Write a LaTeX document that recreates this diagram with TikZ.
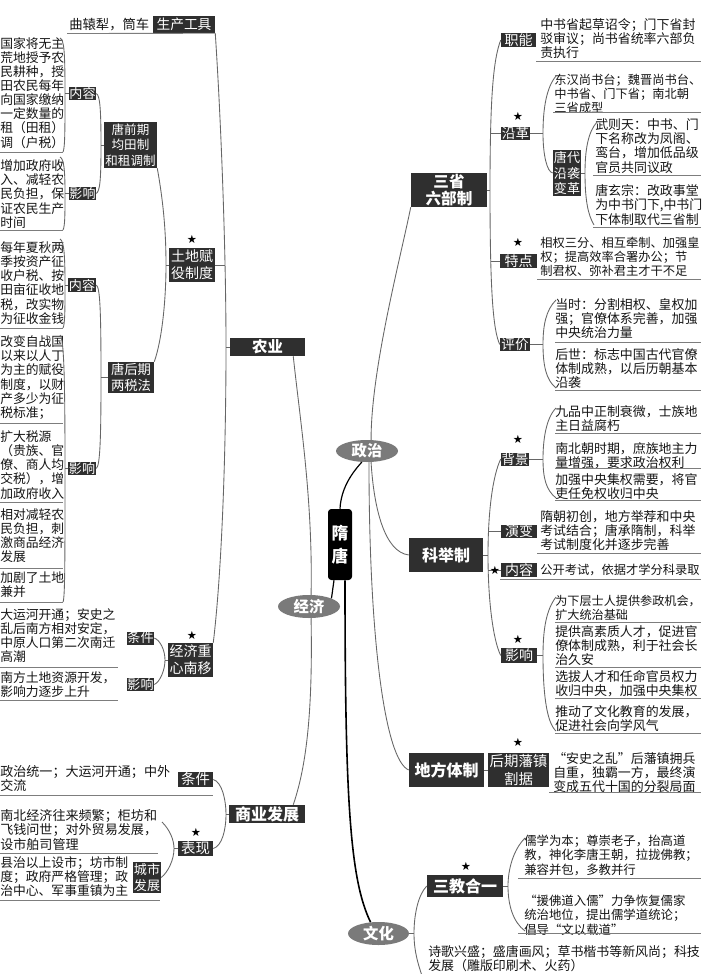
\documentclass[tikz,border=0pt]{standalone}
\usepackage{fontspec}
\setmainfont{Noto Sans CJK SC}
\newfontfamily\symfont{DejaVu Sans}
\usetikzlibrary{calc,shapes.geometric}
\definecolor{boxc}{HTML}{2F2F2F}
\definecolor{ellc}{HTML}{7A7A7A}
\definecolor{linec}{HTML}{666666}
\definecolor{txtc}{HTML}{151515}
\newcommand{\setfs}[2]{\fontsize{#1}{#2}\selectfont}
\begin{document}
\begin{tikzpicture}[x=0.75pt,y=-0.75pt,
 box/.style={fill=boxc,text=white,inner sep=0pt,align=center},
 bw/.style={minimum width=#1*0.75pt},
 bh/.style={minimum height=#1*0.75pt},
 ell/.style={ellipse,fill=ellc,text=white,inner sep=0pt,font=\bfseries\setfs{11.5}{12}},
 leaf/.style={inner sep=0pt,anchor=north west,align=left,text=txtc,font=\setfs{#1}{10.6}},
 leaf/.default=9.7,
 link/.style={draw=linec,line width=0.65pt},
 blink/.style={draw=black,line width=0.9pt},
 uline/.style={draw=linec!85,line width=0.65pt},
 starn/.style={inner sep=0pt,font=\symfont\setfs{8.5}{8.5}}
]
\fill[white] (0,0) rectangle (701,974);
\useasboundingbox (0,0) rectangle (701,974);

% ---------------- boxes: left ----------------
\node[box,bw=62,bh=17,font=\setfs{10.3}{12}] (sc) at (184,24.5) {生产工具};
\node[box,bw=53,bh=46,font=\setfs{9.4}{11.6}] (tq) at (130.5,145) {唐前期\\均田制\\和租调制};
\node[box,bw=27,bh=13,font=\setfs{9.8}{11}] (nr1) at (82.5,93.5) {内容};
\node[box,bw=27,bh=13,font=\setfs{9.8}{11}] (yx1) at (82.5,193.5) {影响};
\node[box,bw=46,bh=34,font=\setfs{10.5}{12.5}] (td) at (192,265) {土地赋\\役制度};
\node[box,bw=46,bh=31,font=\setfs{10}{12}] (th) at (131,377.5) {唐后期\\两税法};
\node[box,bw=28,bh=14,font=\setfs{9.8}{11}] (nr2) at (82,285) {内容};
\node[box,bw=28,bh=13,font=\setfs{9.8}{11}] (yx2) at (82,468.5) {影响};
\node[box,bw=75,bh=18,font=\bfseries\setfs{11.5}{12}] (ny) at (267.5,347) {农业};
\node[box,bw=45,bh=34,font=\setfs{10.5}{12.5}] (jz) at (190.5,660) {经济重\\心南移};
\node[box,bw=27,bh=13,font=\setfs{9.8}{11}] (tj3) at (140.5,638) {条件};
\node[box,bw=27,bh=13,font=\setfs{9.8}{11}] (yx3) at (140.5,684.5) {影响};
\node[box,bw=76,bh=18,font=\bfseries\setfs{12}{12}] (sy) at (267,814) {商业发展};
\node[box,bw=35,bh=15,font=\setfs{10.8}{12}] (tj4) at (195.5,779.5) {条件};
\node[box,bw=35,bh=15,font=\setfs{10.8}{12}] (bx) at (195.5,848.5) {表现};
\node[box,bw=28,bh=31,font=\setfs{9.8}{11.5}] (cs) at (147,877.5) {城市\\发展};

% ---------------- centre ----------------
\node[box,fill=black,rounded corners=2.5pt,bw=24,bh=71,font=\bfseries\setfs{12.5}{17.5}] (st) at (340,544.5) {隋\\唐};
\node[ell,bw=62,bh=22] (zz) at (367,451) {政治};
\node[ell,bw=62,bh=23] (jj) at (309,606.5) {经济};
\node[ell,bw=61,bh=23] (wh) at (378.5,933.5) {文化};

% ---------------- boxes: right ----------------
\node[box,bw=76,bh=34,font=\bfseries\setfs{11.7}{12.8}] (ssl) at (449,190) {三省\\六部制};
\node[box,bw=74,bh=34,font=\bfseries\setfs{12}{12}] (kj) at (446,555) {科举制};
\node[box,bw=75,bh=34,font=\bfseries\setfs{12}{12}] (df) at (446.5,770) {地方体制};
\node[box,bw=61,bh=34,font=\setfs{10.8}{13}] (fz) at (518.5,770) {后期藩镇\\割据};
\node[box,bw=76,bh=22,font=\bfseries\setfs{12}{12}] (sj) at (465,886) {三教合一};
\node[box,bw=35,bh=14,font=\setfs{10.5}{12}] (zn) at (518.5,40) {职能};
\node[box,bw=29,bh=13,font=\setfs{10.2}{12}] (yg) at (515.5,133.5) {沿革};
\node[box,bw=28,bh=46,font=\setfs{9.8}{11.5}] (tdy) at (567,173) {唐代\\沿袭\\变革};
\node[box,bw=37,bh=14,font=\setfs{10.5}{12}] (tdn) at (518.5,261) {特点};
\node[box,bw=30,bh=13,font=\setfs{10.2}{12}] (pj) at (515,344.5) {评价};
\node[box,bw=28,bh=13,font=\setfs{10}{12}] (bj) at (515,459) {背景};
\node[box,bw=36,bh=13,font=\setfs{10.5}{12}] (yb) at (519,531.5) {演变};
\node[box,bw=36,bh=14,font=\setfs{10.5}{12}] (nr3) at (519,570) {内容};
\node[box,bw=36,bh=15,font=\setfs{10.5}{12}] (yx4) at (519,655.5) {影响};

% ---------------- stars ----------------
\node[starn] (s1) at (192,239) {★};
\node[starn] (s2) at (192,635) {★};
\node[starn] (s3) at (196,832) {★};
\node[starn] (s4) at (518,116) {★};
\node[starn] (s5) at (518,242) {★};
\node[starn] (s6) at (518,439) {★};
\node[starn] (s8) at (518,639) {★};
\node[starn] (s9) at (518,742) {★};
\node[starn] (s10) at (466,866) {★};

% ---------------- leaf texts: left ----------------
\node[leaf=10] (qy) at (69,18) {曲辕犁，筒车};
\node[leaf=9.6] (l1) at (0,37) {国家将无主\\荒地授予农\\民耕种，授\\田农民每年\\向国家缴纳\\一定数量的\\租（田租）\\调（户税）};
\node[leaf=9.6] (l2) at (0,159.5) {增加政府收\\入、减轻农\\民负担，保\\证农民生产\\时间};
\node[leaf=9.6] (l3) at (0,241.5) {每年夏秋两\\季按资产征\\收户税、按\\田亩征收地\\税，改实物\\为征收金钱};
\node[leaf=9.6] (l4) at (0,335.5) {改变自战国\\以来以人丁\\为主的赋役\\制度，以财\\产多少为征\\税标准；};
\node[leaf=9.6] (l5) at (0,430.5) {扩大税源\\（贵族、官\\僚、商人均\\交税），增\\加政府收入};
\node[leaf=9.6] (l6) at (0,508.5) {相对减轻农\\民负担，刺\\激商品经济\\发展};
\node[leaf=9.6] (l7) at (0,571.5) {加剧了土地\\兼并};
\node[leaf=9.6] (l8) at (0,608.5) {大运河开通；安史之\\乱后南方相对安定，\\中原人口第二次南迁\\高潮};
\node[leaf=9.6] (l9) at (0,671.5) {南方土地资源开发，\\影响力逐步上升};
\node[leaf=9.8] (l10) at (0,765) {政治统一；大运河开通；中外\\交流};
\node[leaf=9.8] (l11) at (0,809.5) {南北经济往来频繁；柜坊和\\飞钱问世；对外贸易发展，\\设市舶司管理};
\node[leaf=9.6] (l12) at (0,856.5) {县治以上设市；坊市制\\度；政府严格管理；政\\治中心、军事重镇为主};

% ---------------- leaf texts: right ----------------
\node[leaf=9.7] (r1) at (540,18.5) {中书省起草诏令；门下省封\\驳审议；尚书省统率六部负\\责执行};
\node[leaf=9.2] (r2) at (554,73.5) {东汉尚书台；魏晋尚书台、\\中书省、门下省；南北朝\\三省成型};
\node[leaf=9.7] (r3) at (595,118.5) {武则天：中书、门\\下名称改为凤阁、\\鸾台，增加低品级\\官员共同议政};
\node[leaf=9.7] (r4) at (595,184.5) {唐玄宗：改政事堂\\为中书门下,中书门\\下体制取代三省制};
\node[leaf=9.2] (r5) at (540,237) {相权三分、相互牵制、加强皇\\权；提高效率合署办公；节\\制君权、弥补君主才干不足};
\node[leaf=9.7] (r6) at (555,298.5) {当时：分割相权、皇权加\\强；官僚体系完善，加强\\中央统治力量};
\node[leaf=9.7] (r7) at (555,348.5) {后世：标志中国古代官僚\\体制成熟，以后历朝基本\\沿袭};
\node[leaf=9.7] (r8) at (555,405) {九品中正制衰微，士族地\\主日益腐朽};
\node[leaf=9.7] (r9) at (555,442) {南北朝时期，庶族地主力\\量增强，要求政治权利};
\node[leaf=9.7] (r10) at (555,473.5) {加强中央集权需要，将官\\吏任免权收归中央};
\node[leaf=9.7] (r11) at (540,510) {隋朝初创，地方举荐和中央\\考试结合；唐承隋制，科举\\考试制度化并逐步完善};
\node[leaf=9.2] (r12) at (540,563.5) {公开考试，依据才学分科录取};
\node[leaf=9.1] (r13) at (555,595) {为下层士人提供参政机会，\\扩大统治基础};
\node[leaf=9.7] (r14) at (555,625) {提供高素质人才，促进官\\僚体制成熟，利于社会长\\治久安};
\node[leaf=9.7] (r15) at (555,670) {选拔人才和任命官员权力\\收归中央，加强中央集权};
\node[leaf=9.7] (r16) at (555,705) {推动了文化教育的发展，\\促进社会向学风气};
\node[leaf=9.7] (r17) at (553,752) {“安史之乱”后藩镇拥兵\\自重，独霸一方，最终演\\变成五代十国的分裂局面};
\node[leaf=9.3] (r18) at (524,835) {儒学为本；尊崇老子，抬高道\\教，神化李唐王朝，拉拢佛教；\\兼容并包，多教并行};
\node[leaf=9.3] (r19) at (524,895) {“援佛道入儒”力争恢复儒家\\统治地位，提出儒学道统论；\\倡导“文以载道”};
\node[leaf=9.7,font=\setfs{9.7}{9.9}] (r20) at (428,945.5) {诗歌兴盛；盛唐画风；草书楷书等新风尚；科技\\发展（雕版印刷术、火药）};

% star in front of 内容 (科举)
\coordinate (nr3j) at (488.3,570);
\draw[link] (nr3j) -- (nr3.west);
\node[starn] (s7) at (495,570) {★};

% ---------------- underlines ----------------
\draw[uline] (67,33.5) -- (sc.south east);
\foreach \yy in {152,230,328,423,502,568,602} \draw[uline] (0,\yy) -- (63,\yy);
\draw[uline] (0,667) -- (118,667);
\draw[uline] (0,700) -- (118,700);
\draw[uline] (0,795) -- (tj4.east |- 0,795);
\draw[uline] (0,853) -- (158,853);
\draw[uline] (0,900) -- (160,900);
\draw[uline] (zn.east |- 0,61) -- (701,61);
\draw[uline] (553,112) -- (701,112);
\draw[uline] (593,175) -- (701,175);
\draw[uline] (593,227) -- (701,227);
\draw[uline] (tdn.east |- 0,279) -- (701,279);
\foreach \yy in {342,390,433,468,500,622,667,698,733} \draw[uline] (555,\yy) -- (701,\yy);
\draw[uline] (yb.east |- 0,553) -- (701,553);
\draw[uline] (500,579) -- (701,579);
\draw[uline] (fz.east |- 0,792) -- (701,792);
\draw[uline] (518,878) -- (701,878);
\draw[uline] (518,933) -- (701,933);

% ---------------- connectors: 农业 ----------------
\coordinate (nyj) at (226,347);
\draw[link] (sc.south east) .. controls (221,120) and (226,250) .. (nyj) .. controls (226,450) and (222,570) .. (jz.north east);
\draw[link] (nyj) -- (ny.west);
\coordinate (tdk) at (225,265);
\draw[link] (td.east) -- (tdk);

\coordinate (tdj) at (166,265);
\draw[link] (tq.south east) .. controls (163,200) and (166,230) .. (tdj) .. controls (166,300) and (162,340) .. (th.north east);
\draw[link] (tdj) -- (td.west);

\coordinate (tqj) at (101,145);
\draw[link] (nr1.east) .. controls (100,95) and (101,110) .. (tqj) .. controls (101,180) and (100,191) .. (yx1.east);
\draw[link] (tqj) -- (tq.west);

\coordinate (thj) at (101,377.5);
\draw[link] (nr2.east) .. controls (100,287) and (101,310) .. (thj) .. controls (101,440) and (100,466) .. (yx2.east);
\draw[link] (thj) -- (th.west);

% leaf brackets (left)
\coordinate (b1) at (65,93.5);
\draw[link] (60,38) .. controls (64,40) and (65,50) .. (b1) .. controls (65,130) and (65,148) .. (63,152);
\draw[link] (b1) -- (nr1.west);
\coordinate (b2) at (65,193.5);
\draw[link] (60,157) .. controls (64,159) and (65,170) .. (b2) .. controls (65,215) and (65,226) .. (63,230);
\draw[link] (b2) -- (yx1.west);
\coordinate (b3) at (65,285);
\draw[link] (60,239) .. controls (64,241) and (65,255) .. (b3) .. controls (65,310) and (65,324) .. (63,328);
\draw[link] (b3) -- (nr2.west);
\coordinate (b4) at (65,468.5);
\draw[link] (60,335) .. controls (64,338) and (65,380) .. (b4) .. controls (65,560) and (65,598) .. (63,602);
\draw[link] (b4) -- (yx2.west);

% 经济重心南移
\coordinate (jzj) at (165,660);
\draw[link] (tj3.east) .. controls (160,640) and (165,650) .. (jzj) .. controls (165,670) and (160,682) .. (yx3.east);
\draw[link] (jzj) -- (jz.west);

% 商业发展
\coordinate (syj) at (226,814);
\draw[link] (tj4.east) .. controls (222,782) and (226,800) .. (syj) .. controls (226,830) and (222,846) .. (bx.east);
\draw[link] (syj) -- (sy.west);
\coordinate (bxj) at (174,848.5);
\draw[link] (162,822) .. controls (170,830) and (174,840) .. (bxj) .. controls (174,860) and (168,872) .. (cs.east);
\draw[link] (bxj) -- (bx.west);

% ---------------- connectors: 三省六部制 ----------------
\coordinate (sslj) at (490,190);
\draw[link] (zn.west) .. controls (493,60) and (490,100) .. (sslj) .. controls (490,290) and (493,330) .. (pj.west);
\draw[link] (ssl.east) -- (sslj);
\coordinate (ygk) at (490.3,133.5);
\draw[link] (ygk) -- (yg.west);
\coordinate (tdnk) at (490.6,261);
\draw[link] (tdnk) -- (tdn.west);

\coordinate (ygj) at (543,133.5);
\draw[link] (556,76) .. controls (546,88) and (543,110) .. (ygj) .. controls (543,155) and (547,172) .. (tdy.west);
\draw[link] (yg.east) -- (ygj);
\coordinate (tdyj) at (585,173);
\draw[link] (597,122) .. controls (588,132) and (585,150) .. (tdyj) .. controls (585,200) and (588,215) .. (594,225);
\draw[link] (tdy.east) -- (tdyj);
\coordinate (pjj) at (543,344.5);
\draw[link] (556,300) .. controls (546,310) and (543,325) .. (pjj) .. controls (543,365) and (546,380) .. (556,388);
\draw[link] (pj.east) -- (pjj);

% ---------------- connectors: 科举制 ----------------
\coordinate (kjj) at (488,555);
\draw[link] (bj.west) .. controls (493,475) and (488,510) .. (kjj) .. controls (488,600) and (493,640) .. (yx4.west);
\draw[link] (kj.east) -- (kjj);
\coordinate (ybk) at (488.5,531.5);
\draw[link] (ybk) -- (yb.west);
\coordinate (bjj) at (543,459);
\draw[link] (556,408) .. controls (546,418) and (543,440) .. (bjj) .. controls (543,478) and (546,490) .. (556,498);
\draw[link] (bj.east) -- (bjj);
\coordinate (yx4j) at (543,655.5);
\draw[link] (556,597) .. controls (546,610) and (543,630) .. (yx4j) .. controls (543,690) and (546,722) .. (556,731);
\draw[link] (yx4.east) -- (yx4j);

% 地方体制
\draw[link] (df.east) -- (fz.west);

% 三教合一 / 文化
\coordinate (sjj) at (508,886);
\draw[link] (525,838) .. controls (513,850) and (508,870) .. (sjj) .. controls (508,905) and (513,922) .. (525,931);
\draw[link] (sj.east) -- (sjj);
\coordinate (whj) at (414,933.5);
\coordinate (whe) at (427,990);
\draw[link] (sj.west) .. controls (418,895) and (414,915) .. (whj) .. controls (414,955) and (420,970) .. (whe);
\draw[link] (wh.east) -- (whj);

% ---------------- 政治 / 经济 ----------------
\draw[link] (zz.70) .. controls (371,370) and (400,260) .. (ssl.south west);
\draw[link] (zz.-70) .. controls (374,510) and (385,552) .. (kj.west);
\draw[link] (zz.-80) .. controls (369,640) and (385,760) .. (df.west);
\draw[link] (jj.80) .. controls (313,500) and (300,420) .. ($(ny.south east)+(-12,0)$);
\draw[link] (jj.-80) .. controls (313,720) and (305,770) .. ($(sy.north east)+(-12,0)$);

% ---------------- 隋唐 ----------------
\draw[blink] (st.north) .. controls (341,490) and (350,475) .. (zz.-115);
\draw[blink] ($(st.south)+(-6,0)$) -- (jj.20);
\draw[blink,line width=1.2pt] ($(st.south)+(5,0)$) .. controls (345,800) and (350,880) .. (wh.125);
\end{tikzpicture}
\end{document}
